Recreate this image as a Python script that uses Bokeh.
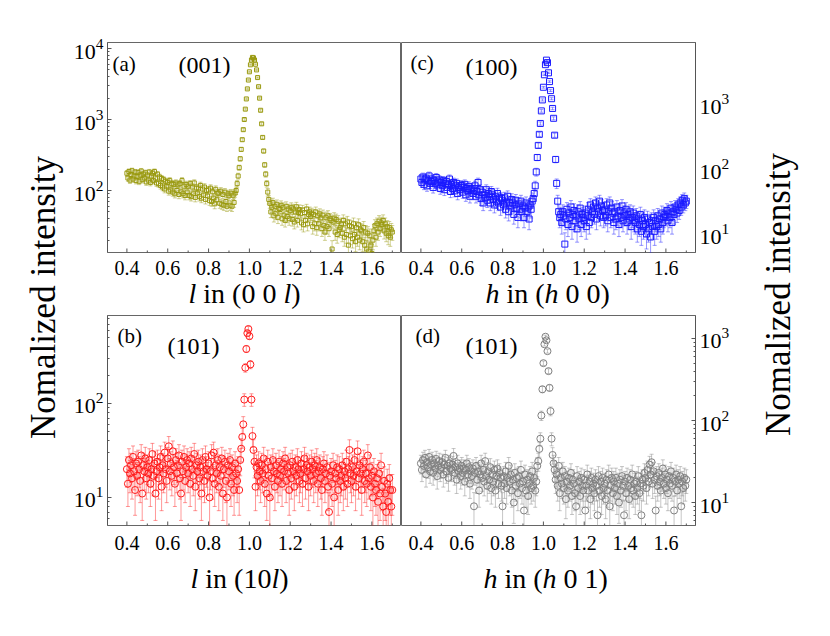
import numpy as np
from bokeh.plotting import figure
from bokeh.layouts import row, column
from bokeh.models import Range1d, FixedTicker
from bokeh.core.properties import value
from bokeh.embed import file_html
from bokeh.resources import INLINE

FONT = "Liberation Serif"

# scan grid (0.400 ... 1.700, step 0.005)
x_scan = np.round(0.4 + 0.005 * np.arange(261), 3)

# (a) (0 0 l) scan, around (001)
y_a = [
    175, 150, 185, 140, 168, 190, 145, 160, 182, 138,
    158, 180, 135, 165, 188, 142, 170, 150, 178, 132,
    165, 140, 182, 130, 160, 175, 138, 185, 150, 128,
    170, 125, 155, 118, 148, 112, 142, 105, 135, 115,
    130, 98, 138, 102, 125, 95, 122, 90, 128, 100,
    120, 88, 125, 96, 138, 90, 115, 85, 122, 95,
    115, 85, 125, 82, 112, 90, 128, 80, 108, 92,
    108, 82, 118, 78, 105, 86, 112, 75, 100, 84,
    102, 72, 108, 70, 96, 78, 65, 104, 74, 92,
    92, 66, 98, 64, 88, 62, 95, 70, 60, 90,
    84, 62, 92, 60, 86, 68, 92, 100, 125, 160,
    210, 280, 380, 520, 720, 1000, 1400, 1950, 2700, 3600,
    4700, 5900, 6900, 7500, 7400, 6900, 6000, 5000, 3900, 2900,
    2000, 1350, 870, 560, 360, 230, 170, 125, 95, 75,
    66, 50, 58, 68, 44, 60, 47, 64, 42, 56,
    54, 62, 40, 58, 45, 38, 60, 43, 55, 40,
    52, 58, 39, 55, 36, 50, 59, 38, 49, 54,
    47, 35, 53, 33, 49, 38, 55, 34, 46, 50,
    43, 48, 31, 46, 34, 50, 30, 44, 34, 47,
    41, 29, 45, 32, 26, 42, 31, 44, 29, 40,
    38, 15, 36, 41, 26, 39, 24, 37, 28, 30,
    34, 25, 38, 22, 34, 24, 36, 17, 32, 23,
    31, 21, 34, 24, 19, 30, 22, 33, 20, 28,
    27, 19, 30, 17, 26, 15, 25, 14, 23, 17,
    13, 20, 27, 32, 22, 34, 26, 37, 29, 35,
    33, 38, 27, 34, 25, 31, 23, 30, 22, 28,
    26,
]

# (c) (h 0 0) scan, around (100)
y_c = [
    70, 62, 75, 58, 68, 72, 55, 66, 78, 60,
    64, 70, 52, 66, 60, 74, 57, 63, 68, 50,
    62, 56, 66, 48, 60, 64, 52, 58, 70, 45,
    58, 50, 62, 46, 55, 60, 42, 52, 48, 56,
    55, 44, 52, 58, 40, 50, 46, 54, 38, 48,
    50, 42, 47, 55, 38, 45, 62, 40, 48, 35,
    44, 30, 40, 36, 48, 33, 42, 38, 30, 45,
    40, 34, 28, 38, 32, 42, 30, 36, 26, 35,
    33, 28, 36, 24, 31, 38, 22, 30, 27, 34,
    30, 20, 28, 33, 25, 18, 29, 24, 32, 22,
    27, 18, 25, 30, 22, 26, 17, 28, 24, 32,
    35, 42, 55, 90, 150, 230, 340, 500, 780, 1150,
    1800, 2800, 4000, 4700, 4300, 3000, 2200, 1600, 1200, 850,
    600, 330, 140, 60, 32, 22, 18, 20, 15, 22,
    19, 7, 17, 24, 14, 21, 18, 26, 13, 20,
    23, 16, 19, 12, 22, 17, 25, 14, 20, 18,
    16, 21, 13, 19, 24, 15, 28, 18, 22, 26,
    20, 30, 17, 25, 22, 32, 19, 27, 23, 18,
    24, 19, 28, 16, 22, 30, 18, 25, 21, 15,
    22, 17, 26, 19, 14, 23, 18, 27, 16, 21,
    19, 24, 15, 20, 17, 22, 13, 18, 21, 16,
    15, 19, 12, 17, 14, 20, 11, 16, 13, 18,
    14, 10, 17, 12, 15, 9, 16, 13, 18, 11,
    16, 13, 19, 14, 17, 12, 21, 15, 18, 20,
    19, 23, 16, 21, 18, 25, 15, 22, 20, 26,
    24, 21, 28, 23, 30, 26, 33, 28, 35, 30,
    32,
]

# (b) (1 0 l) scan, around (101)
y_b = [
    20, 14, 25, 18, 22, 16, 27, 19, 12, 23,
    17, 24, 20, 15, 28, 11, 22, 19, 26, 16,
    21, 18, 25, 14, 20, 29, 17, 23, 11, 19,
    24, 16, 21, 27, 13, 22, 18, 30, 20, 15,
    26, 35, 19, 23, 17, 31, 21, 14, 25, 18,
    22, 28, 16, 11, 24, 19, 27, 15, 21, 25,
    18, 23, 14, 26, 20, 17, 29, 13, 22, 19,
    24, 16, 21, 11, 25, 19, 15, 27, 20, 17,
    23, 10, 19, 28, 16, 30, 14, 22, 18, 25,
    13, 21, 17, 26, 11, 20, 24, 15, 10, 22,
    19, 25, 14, 21, 17, 12, 23, 18, 15, 20,
    12, 25, 33, 44, 60, 110, 240, 380, 560, 620,
    520, 260, 110, 45, 32, 24, 13, 21, 17, 23,
    19, 15, 22, 18, 26, 14, 20, 11, 24, 17,
    10, 21, 16, 25, 19, 13, 22, 18, 15, 24,
    17, 20, 14, 23, 19, 26, 15, 21, 18, 12,
    22, 16, 24, 19, 13, 21, 17, 25, 20, 15,
    18, 23, 14, 20, 26, 16, 22, 19, 13, 21,
    17, 24, 20, 15, 22, 18, 25, 14, 19, 21,
    16, 12, 20, 23, 15, 18, 21, 13, 7, 17,
    19, 14, 22, 10, 18, 16, 21, 12, 20, 15,
    17, 22, 13, 19, 16, 24, 14, 20, 32, 18,
    15, 21, 17, 25, 13, 19, 31, 16, 22, 18,
    12, 20, 24, 15, 18, 14, 28, 16, 21, 13,
    17, 10, 19, 14, 12, 16, 9, 18, 11, 22,
    13, 8, 15, 11, 7, 14, 9, 16, 12, 8,
    12,
]

# (d) (h 0 1) scan, around (101)
y_d = [
    30, 25, 33, 28, 35, 22, 31, 27, 36, 24,
    29, 33, 23, 30, 26, 34, 21, 28, 32, 25,
    27, 31, 22, 29, 35, 24, 28, 20, 30, 26,
    25, 29, 37, 23, 27, 19, 30, 24, 26, 21,
    28, 23, 26, 18, 25, 30, 22, 27, 17, 24,
    21, 26, 9, 23, 28, 19, 24, 14, 22, 30,
    20, 25, 18, 32, 21, 16, 24, 19, 27, 15,
    22, 18, 25, 14, 21, 26, 17, 23, 20, 16,
    9, 21, 17, 24, 15, 20, 28, 18, 22, 14,
    19, 10, 23, 16, 20, 13, 21, 17, 25, 15,
    18, 8, 22, 14, 19, 12, 17, 21, 15, 24,
    16, 20, 14, 18, 28, 32, 45, 60, 115, 240,
    500, 850, 1050, 950, 700, 400, 250, 130, 60, 38,
    30, 25, 19, 22, 16, 28, 13, 20, 17, 24,
    15, 21, 11, 18, 14, 20, 16, 23, 12, 19,
    17, 13, 9, 21, 15, 18, 12, 20, 16, 14,
    19, 8, 16, 22, 14, 18, 11, 20, 15, 17,
    13, 19, 16, 7, 21, 14, 18, 12, 20, 15,
    17, 11, 19, 14, 22, 9, 16, 20, 13, 18,
    15, 20, 12, 17, 10, 19, 14, 21, 16, 7,
    18, 13, 20, 16, 11, 19, 15, 22, 14, 17,
    12, 18, 15, 21, 13, 17, 7, 19, 16, 23,
    20, 15, 25, 18, 29, 22, 31, 17, 24, 19,
    8, 21, 16, 23, 18, 14, 20, 26, 17, 22,
    15, 19, 13, 21, 17, 24, 16, 20, 8, 18,
    22, 14, 19, 17, 21, 9, 18, 15, 20, 16,
    19,
]

# counting-statistics error scale per panel
err_k = {"a": 1.2, "c": 1.3, "b": 1.6, "d": 1.4}

x_ticks = [0.4, 0.6, 0.8, 1.0, 1.2, 1.4, 1.6]
x_tick_labels = ["0.4", "0.6", "0.8", "1.0", "1.2", "1.4", "1.6"]
x_minor = [0.5, 0.7, 0.9, 1.1, 1.3, 1.5, 1.7]
decades = [1, 10, 100, 1000, 10000, 100000]
log_minor = [m * 10 ** k for k in range(0, 5) for m in range(2, 10)]

XR = (0.305, 1.745)
AXIS_COL = "#555555"

# page-pixel layout
LEFT_W, RIGHT_W = 66, 72
WA, WC = 335, 349          # widths of left / right columns
MBL, MBR = 41, 55
TOP_H, TOP_T = 254, 42     # upper panels: height, top border
TLAB_H = 58                # upper x-tick/title strip
BOT_H, BOT_T = 215, 3
BLAB_H = 81
TOTAL_H = TOP_H + TLAB_H + BOT_H + BLAB_H


def make_panel(width, height, mbl, mbr, mbt, yr, side, yticks_in):
    p = figure(width=width, height=height, x_range=Range1d(*XR),
               y_range=Range1d(*yr), y_axis_type="log", y_axis_location=side,
               output_backend="svg", toolbar_location=None,
               min_border_left=mbl, min_border_right=mbr,
               min_border_top=mbt, min_border_bottom=2)
    p.grid.visible = False
    p.outline_line_color = "#666666"
    p.background_fill_color = "white"
    p.border_fill_color = "white"
    p.xaxis.visible = False
    # inward x ticks along the frame bottom (half of each dash is clipped)
    p.scatter(x=x_ticks, y=[yr[0]] * len(x_ticks), marker="dash", angle=np.pi / 2,
              size=8, line_color=AXIS_COL, line_width=1)
    p.scatter(x=x_minor, y=[yr[0]] * len(x_minor), marker="dash", angle=np.pi / 2,
              size=4, line_color=AXIS_COL, line_width=1)
    ya = p.yaxis[0]
    ya.ticker = FixedTicker(ticks=decades, minor_ticks=log_minor)
    ya.major_tick_in = 4 if yticks_in else 0
    ya.major_tick_out = 0
    ya.minor_tick_in = 2 if yticks_in else 0
    ya.minor_tick_out = 0
    ya.axis_line_color = AXIS_COL
    ya.major_tick_line_color = AXIS_COL
    ya.minor_tick_line_color = AXIS_COL
    ya.major_label_text_font = FONT
    ya.major_label_text_font_size = "22px"
    ya.major_label_text_color = "black"
    ya.major_label_standoff = 4
    return p


def draw_data(p, xs, ys, k, color, marker, size):
    n = min(len(xs), len(ys))
    xs = np.asarray(xs[:n], dtype=float)
    ys = np.asarray(ys[:n], dtype=float)
    e = k * np.sqrt(ys)
    hi = ys + e
    lo = np.maximum(ys - e, 0.5)
    p.segment(x0=xs, y0=lo, x1=xs, y1=hi, line_color=color, line_alpha=0.45, line_width=1)
    p.scatter(x=xs, y=hi, marker="dash", size=4, line_color=color, line_alpha=0.45)
    p.scatter(x=xs, y=lo, marker="dash", size=4, line_color=color, line_alpha=0.45)
    p.scatter(x=xs, y=ys, marker=marker, size=size, fill_color=None,
              line_color=color, line_width=1)


def page_to_data(px, py, fr, yr):
    l, t, r, b = fr
    x = XR[0] + (px - l) / (r - l) * (XR[1] - XR[0])
    ly0, ly1 = np.log10(yr[0]), np.log10(yr[1])
    ly = ly1 - (py - t) / (b - t) * (ly1 - ly0)
    return x, 10 ** ly


def panel_text(p, fr, yr, px, py, txt, size):
    x, y = page_to_data(px, py, fr, yr)
    p.text(x=[x], y=[y], text=[txt], text_font=value(FONT), text_font_size=size,
           text_align="left", text_baseline="middle", text_color="black")


# Times-compatible advance widths (em)
ADV = {" ": 0.25, "i": 0.278, "n": 0.5, "(": 0.333, ")": 0.333, "0": 0.5,
       "1": 0.5, "h": 0.5, "l": 0.278}


def label_strip(width, height, mbl, mbr, fr, tick_y, title_px, title_y, pieces, size=28):
    """Strip under a panel: x tick labels + mixed italic/roman axis title."""
    p = figure(width=width, height=height, x_range=Range1d(*XR),
               y_range=Range1d(0, height), output_backend="svg",
               toolbar_location=None, min_border_left=mbl, min_border_right=mbr,
               min_border_top=0, min_border_bottom=0)
    p.axis.visible = False
    p.grid.visible = False
    p.outline_line_color = None
    p.background_fill_color = "white"
    p.border_fill_color = "white"
    p.text(x=x_ticks, y=[tick_y] * len(x_ticks), text=x_tick_labels,
           text_font=value(FONT), text_font_size="20px", text_align="center",
           text_baseline="middle", text_color="black")
    px = title_px
    for s, ital in pieces:
        word, wstart = "", px
        for ch in s + " ":
            if ch == " ":
                if word:
                    x, _ = page_to_data(wstart, 0, fr, (1, 10))
                    p.text(x=[x], y=[title_y], text=[word], text_font=value(FONT),
                           text_font_size=f"{size}px",
                           text_font_style="italic" if ital else "normal",
                           text_align="left", text_baseline="middle",
                           text_color="black")
                word = ""
            else:
                if not word:
                    wstart = px
                word += ch
            px += ADV.get(ch, 0.5) * size
        px -= ADV[" "] * size
    return p


YR_A = (13.4, 12160)
YR_C = (5.2, 8770)
YR_B = (5.03, 863)
YR_D = (5.25, 1905)

FR_A = (107, 42, 401, 252)
FR_C = (401, 42, 695, 252)
FR_B = (107, 315, 401, 525)
FR_D = (401, 315, 695, 525)

fa = make_panel(WA, TOP_H, MBL, 0, TOP_T, YR_A, "left", True)
fc = make_panel(WC, TOP_H, 0, MBR, TOP_T, YR_C, "right", False)
fb = make_panel(WA, BOT_H, MBL, 0, BOT_T, YR_B, "left", True)
fd = make_panel(WC, BOT_H, 0, MBR, BOT_T, YR_D, "right", True)

draw_data(fa, x_scan, y_a, err_k["a"], "#9a9a10", "square", 4)
draw_data(fc, x_scan, y_c, err_k["c"], "#1a1aff", "square", 6)
draw_data(fb, x_scan, y_b, err_k["b"], "#ff1a1a", "circle", 7)
draw_data(fd, x_scan, y_d, err_k["d"], "#808080", "circle", 7)

panel_text(fa, FR_A, YR_A, 112, 63, "(a)", "21px")
panel_text(fa, FR_A, YR_A, 178, 64, "(001)", "24px")
panel_text(fc, FR_C, YR_C, 410, 62, "(c)", "21px")
panel_text(fc, FR_C, YR_C, 465, 66, "(100)", "24px")
panel_text(fb, FR_B, YR_B, 117, 335, "(b)", "21px")
panel_text(fb, FR_B, YR_B, 167, 345, "(101)", "24px")
panel_text(fd, FR_D, YR_D, 415, 335, "(d)", "21px")
panel_text(fd, FR_D, YR_D, 465, 345, "(101)", "24px")

# strips: top strip spans page y 254..312, bottom strip 527..608
la = label_strip(WA, TLAB_H, MBL, 0, FR_A, 312 - 267, 188, 312 - 293,
                 [("l", True), (" in (0 0 ", False), ("l", True), (")", False)])
lc = label_strip(WC, TLAB_H, 0, MBR, FR_C, 312 - 267, 485, 312 - 293,
                 [("h", True), (" in (", False), ("h", True), (" 0 0)", False)])
lb = label_strip(WA, BLAB_H, MBL, 0, FR_B, 608 - 542, 190, 608 - 578,
                 [("l", True), (" in (10", False), ("l", True), (")", False)])
ld = label_strip(WC, BLAB_H, 0, MBR, FR_D, 608 - 542, 483, 608 - 578,
                 [("h", True), (" in (", False), ("h", True), (" 0 1)", False)])


def side_label(width, height, cx, cy):
    p = figure(width=width, height=height, x_range=Range1d(0, width),
               y_range=Range1d(0, height), output_backend="svg",
               toolbar_location=None, min_border=0)
    p.axis.visible = False
    p.grid.visible = False
    p.outline_line_color = None
    p.background_fill_color = "white"
    p.border_fill_color = "white"
    p.text(x=[cx], y=[cy], text=["Nomalized intensity"], angle=np.pi / 2,
           text_font=value(FONT), text_font_size="35px", text_align="center",
           text_baseline="middle", text_color="black")
    return p


left = side_label(LEFT_W, TOTAL_H, 43, TOTAL_H - 297)
right = side_label(RIGHT_W, TOTAL_H, 28, TOTAL_H - 294)

grid = column(row(fa, fc), row(la, lc), row(fb, fd), row(lb, ld))
layout = row(left, grid, right)

open("out.html", "w").write(file_html(layout, INLINE))
